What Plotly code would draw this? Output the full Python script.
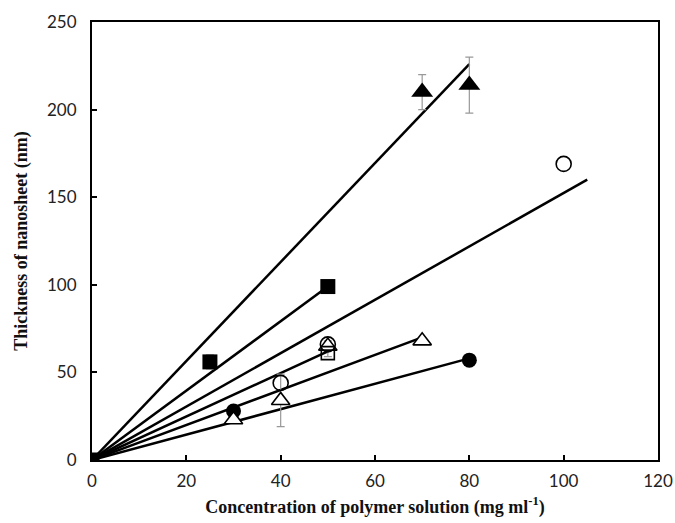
import plotly.graph_objects as go

# Data series (concentration mg/ml, thickness nm, error; None = no error bar)
ftri_x = [70, 80]
ftri_y = [210, 214]
ftri_err = [10, 16]

fsq_x = [0, 25, 50]
fsq_y = [0, 56, 99]
fsq_err = [None, 4, 2]

ocir_x = [40, 50, 100]
ocir_y = [44, 66, 169]
ocir_err = [None, 2, None]

osq_x = [50]
osq_y = [61]
osq_err = [2]

otri_x = [30, 40, 50, 70]
otri_y = [23, 34, 65, 68]
otri_err = [None, 15, None, None]

fcir_x = [30, 80]
fcir_y = [28, 57]

# Linear fits through origin: end points (x, y)
fit_x_end = [80, 50, 105, 50, 70, 80]
fit_y_end = [226, 99, 160, 62, 70, 58]

x_ticks = [0, 20, 40, 60, 80, 100, 120]
y_ticks = [0, 50, 100, 150, 200, 250]

fig = go.Figure()

for xe, ye in zip(fit_x_end, fit_y_end):
    fig.add_trace(go.Scatter(x=[0, xe], y=[0, ye], mode="lines",
                             line=dict(color="black", width=2.5),
                             hoverinfo="skip", showlegend=False))

def add_err(xs, ys, es):
    # draw error bars only for points that have them
    px = [x for x, e in zip(xs, es) if e]
    py = [y for y, e in zip(ys, es) if e]
    pe = [e for e in es if e]
    if px:
        fig.add_trace(go.Scatter(x=px, y=py, mode="markers",
                                 marker=dict(size=1, color="rgba(0,0,0,0)"),
                                 error_y=dict(type="data", array=pe, visible=True,
                                              color="#999999", thickness=1.2, width=4),
                                 hoverinfo="skip", showlegend=False))

add_err(ftri_x, ftri_y, ftri_err)
add_err(fsq_x, fsq_y, fsq_err)
add_err(ocir_x, ocir_y, ocir_err)
add_err(osq_x, osq_y, osq_err)
add_err(otri_x, otri_y, otri_err)

fig.add_trace(go.Scatter(x=fcir_x, y=fcir_y, mode="markers",
                         marker=dict(symbol="circle", size=15, color="black"),
                         showlegend=False))
fig.add_trace(go.Scatter(x=otri_x, y=otri_y, mode="markers",
                         marker=dict(symbol="triangle-up", size=16, color="white",
                                     line=dict(color="black", width=1.6)),
                         showlegend=False))
fig.add_trace(go.Scatter(x=osq_x, y=osq_y, mode="markers",
                         marker=dict(symbol="square", size=13, color="rgba(0,0,0,0)",
                                     line=dict(color="black", width=1.6)),
                         showlegend=False))
fig.add_trace(go.Scatter(x=ocir_x, y=ocir_y, mode="markers",
                         marker=dict(symbol="circle", size=15, color="rgba(0,0,0,0)",
                                     line=dict(color="black", width=1.6)),
                         showlegend=False))
fig.add_trace(go.Scatter(x=fsq_x, y=fsq_y, mode="markers",
                         marker=dict(symbol="square", size=15, color="black"),
                         showlegend=False))
fig.add_trace(go.Scatter(x=ftri_x, y=ftri_y, mode="markers",
                         marker=dict(symbol="triangle-up", size=19, color="black"),
                         showlegend=False))

axis_common = dict(showline=True, linecolor="black", linewidth=2, mirror=True,
                   ticks="inside", ticklen=5, tickwidth=2, tickcolor="black",
                   showgrid=False, zeroline=False, automargin=False,
                   ticklabeloverflow="allow",
                   tickfont=dict(family="Lato, Open Sans, sans-serif", size=17, color="#222"))

title_font = dict(family="Liberation Serif, Times New Roman, serif", size=18, color="#111")

fig.update_xaxes(range=[0, 120], tickvals=x_ticks, ticklabelstandoff=5, **axis_common,
                 title=dict(text="<b>Concentration of polymer solution (mg ml<sup>-1</sup>)</b>",
                            font=title_font, standoff=10))
fig.update_yaxes(range=[0, 250], tickvals=y_ticks, ticklabelstandoff=10, **axis_common,
                 title=dict(text="<b>Thickness of nanosheet (nm)</b>",
                            font=title_font, standoff=15))

fig.update_layout(width=675, height=523, plot_bgcolor="white", paper_bgcolor="white",
                  margin=dict(l=92, r=17, t=22, b=63))

# remove the default page margin so the figure fills the window exactly
fig.write_html("out.html", config={"displayModeBar": False},
               post_script="document.body.style.margin='0';document.body.style.overflow='hidden';")
